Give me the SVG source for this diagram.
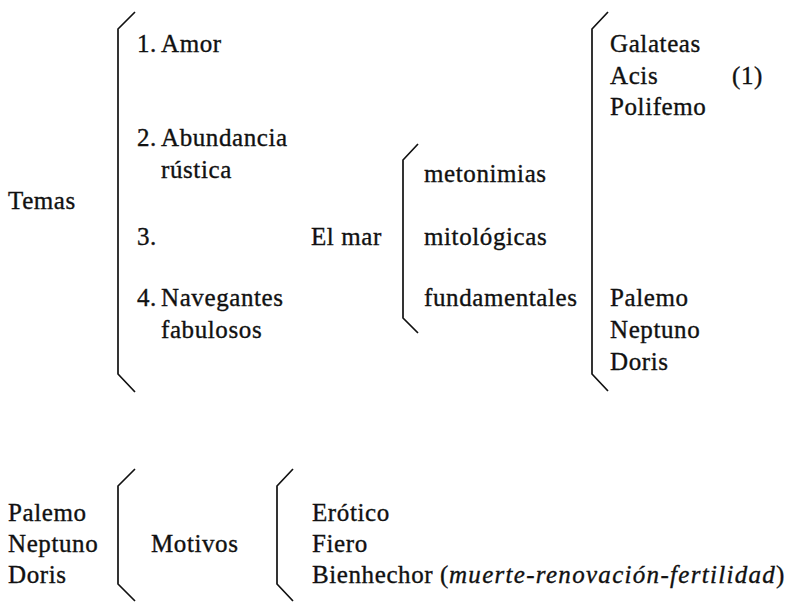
<svg xmlns="http://www.w3.org/2000/svg" width="792" height="611" viewBox="0 0 792 611">
<style>
  text { font-size: 25px; fill: #111; letter-spacing: 0.6px; stroke: #111; stroke-width: 0.35px; }
  .it { font-style: italic; letter-spacing: 1.3px; }
  .br { fill: none; stroke: #111; stroke-width: 1.7; stroke-linejoin: miter; }
</style>
<rect width="792" height="611" fill="#fff"/>
<g id="connectors">
  <path class="br" d="M135,12 L118,29 L118,374 L135,392"/>
  <path class="br" d="M418,144 L403,160 L403,318 L418,333"/>
  <path class="br" d="M608,12 L592,29 L592,374 L608,391"/>
  <path class="br" d="M135,469 L118,486 L118,584 L135,601"/>
  <path class="br" d="M293,469 L277,486 L277,584 L293,601"/>
</g>
<g font-family="Liberation Serif, Times New Roman, serif">
<g id="temas"><text x="8" y="209">Temas</text></g>
<g id="tema1"><text x="137" y="52">1.<tspan x="161">Amor</tspan></text></g>
<g id="tema2"><text x="137" y="146">2.<tspan x="161">Abundancia</tspan></text><text x="161" y="178">rústica</text></g>
<g id="tema3"><text x="137" y="245">3.</text></g>
<g id="elmar"><text x="311" y="245">El mar</text></g>
<g id="tema4"><text x="137" y="306">4.<tspan x="161">Navegantes</tspan></text><text x="161" y="338">fabulosos</text></g>
<g id="metonimias"><text x="424" y="182">metonimias</text><text x="424" y="245">mitológicas</text><text x="424" y="306">fundamentales</text></g>
<g id="grupo1"><text x="610" y="52">Galateas</text><text x="610" y="84">Acis</text><text x="610" y="115">Polifemo</text></g>
<g id="nota"><text x="732" y="84">(1)</text></g>
<g id="grupo2"><text x="610" y="306">Palemo</text><text x="610" y="338">Neptuno</text><text x="610" y="370">Doris</text></g>
<g id="dioses"><text x="8" y="521">Palemo</text><text x="8" y="552">Neptuno</text><text x="8" y="583">Doris</text></g>
<g id="motivos"><text x="151" y="552">Motivos</text></g>
<g id="tipos"><text x="312" y="521">Erótico</text><text x="312" y="552">Fiero</text><text x="312" y="583">Bienhechor (<tspan class="it">muerte-renovación-fertilidad</tspan>)</text></g>
</g>
</svg>
